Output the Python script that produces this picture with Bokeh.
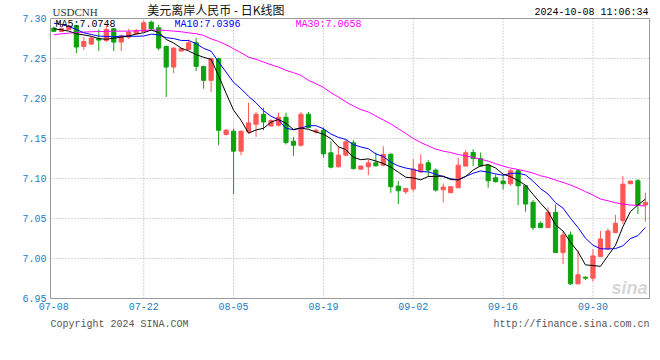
from bokeh.plotting import figure
from bokeh.layouts import column
from bokeh.models import (Range1d, FixedTicker, Label, ColumnDataSource, PrintfTickFormatter,
                          LinearAxis, Span)
from bokeh.embed import file_html
from bokeh.resources import INLINE
import pandas as pd

# ---------------- data ----------------
tick_index = [0, 12, 24, 36, 48, 60, 72]
tick_labels = ["07-08", "07-22", "08-05", "08-19", "09-02", "09-16", "09-30"]

opens = [7.2880, 7.2838, 7.2863, 7.2913, 7.2651, 7.2680, 7.2746, 7.2726, 7.2871, 7.2705,
         7.2767, 7.2809, 7.2838, 7.2954, 7.2884, 7.2651, 7.2393, 7.2593, 7.2613, 7.2697,
         7.2401, 7.2227, 7.2497, 7.1549, 7.1591, 7.1342, 7.1583, 7.1678, 7.1803, 7.1657,
         7.1666, 7.1766, 7.1466, 7.1416, 7.1803, 7.1583, 7.1603, 7.1321, 7.1146, 7.1292,
         7.1446, 7.1117, 7.1146, 7.1196, 7.1167, 7.1304, 7.0905, 7.0835, 7.0868, 7.1084,
         7.1196, 7.1105, 7.0859, 7.0822, 7.0884, 7.1155, 7.1325, 7.1250, 7.1167, 7.1009,
         7.0968, 7.0934, 7.1096, 7.0909, 7.0702, 7.0440, 7.0386, 7.0577, 7.0074, 7.0294,
         6.9683, 6.9767, 6.9754, 7.0024, 7.0120, 7.0323, 7.0473, 7.0934, 7.0972, 7.0668]
highs = [7.2900, 7.2890, 7.2920, 7.2920, 7.2767, 7.2770, 7.2863, 7.2913, 7.2880, 7.2800,
         7.2871, 7.2870, 7.2975, 7.2975, 7.2921, 7.2660, 7.2640, 7.2630, 7.2738, 7.2759,
         7.2410, 7.2510, 7.2510, 7.1620, 7.1624, 7.1600, 7.1948, 7.1832, 7.1886, 7.1740,
         7.1824, 7.1824, 7.1520, 7.1832, 7.1832, 7.1624, 7.1637, 7.1466, 7.1396, 7.1491,
         7.1479, 7.1160, 7.1238, 7.1325, 7.1404, 7.1310, 7.0968, 7.0880, 7.1242, 7.1304,
         7.1229, 7.1126, 7.0938, 7.0900, 7.1259, 7.1354, 7.1367, 7.1325, 7.1180, 7.1051,
         7.1051, 7.1117, 7.1110, 7.0920, 7.0731, 7.0461, 7.0639, 7.0677, 7.0336, 7.0336,
         7.0103, 6.9775, 7.0116, 7.0344, 7.0377, 7.0544, 7.1030, 7.0970, 7.0993, 7.0822]
lows = [7.2830, 7.2830, 7.2855, 7.2568, 7.2609, 7.2670, 7.2593, 7.2705, 7.2593, 7.2593,
        7.2746, 7.2800, 7.2830, 7.2863, 7.2601, 7.2019, 7.2318, 7.2590, 7.2610, 7.2343,
        7.2123, 7.2081, 7.1416, 7.1540, 7.0806, 7.1292, 7.1562, 7.1520, 7.1603, 7.1650,
        7.1650, 7.1425, 7.1283, 7.1400, 7.1625, 7.1562, 7.1259, 7.1126, 7.1140, 7.1280,
        7.1110, 7.1110, 7.1042, 7.1150, 7.1160, 7.0822, 7.0681, 7.0806, 7.0835, 7.1070,
        7.1022, 7.0835, 7.0702, 7.0820, 7.0880, 7.1150, 7.1155, 7.1150, 7.0884, 7.0950,
        7.0864, 7.0909, 7.0668, 7.0585, 7.0357, 7.0380, 7.0380, 7.0070, 6.9929, 6.9671,
        6.9680, 6.9733, 6.9712, 7.0020, 7.0116, 7.0320, 7.0432, 7.0930, 7.0556, 7.0461]
closes = [7.2840, 7.2871, 7.2904, 7.2643, 7.2713, 7.2755, 7.2730, 7.2863, 7.2705, 7.2780,
          7.2830, 7.2850, 7.2946, 7.2871, 7.2630, 7.2393, 7.2630, 7.2622, 7.2697, 7.2401,
          7.2227, 7.2497, 7.1603, 7.1603, 7.1342, 7.1591, 7.1695, 7.1803, 7.1707, 7.1724,
          7.1766, 7.1450, 7.1416, 7.1803, 7.1637, 7.1603, 7.1308, 7.1142, 7.1292, 7.1458,
          7.1126, 7.1155, 7.1196, 7.1159, 7.1300, 7.0897, 7.0847, 7.0876, 7.1117, 7.1180,
          7.1105, 7.0855, 7.0893, 7.0897, 7.1167, 7.1321, 7.1250, 7.1155, 7.0972, 7.0959,
          7.0934, 7.1096, 7.0909, 7.0681, 7.0386, 7.0386, 7.0577, 7.0074, 7.0294, 6.9683,
          6.9796, 6.9754, 7.0032, 7.0244, 7.0344, 7.0440, 7.0930, 7.0968, 7.0668, 7.0702]

# moving-average values at the left edge (they depend on days before the window)
ma5_head = [7.2871, 7.2859, 7.2842, 7.2809]
ma10_head = [7.2942, 7.2925, 7.2900, 7.2863, 7.2821, 7.2800, 7.2780, 7.2776, 7.2771]
ma30 = [7.2796, 7.2809, 7.2817, 7.2825, 7.2830, 7.2834, 7.2838, 7.2838, 7.2842, 7.2842,
        7.2842, 7.2846, 7.2850, 7.2855, 7.2855, 7.2850, 7.2842, 7.2834, 7.2821, 7.2809,
        7.2788, 7.2746, 7.2713, 7.2672, 7.2622, 7.2572, 7.2518, 7.2489, 7.2456, 7.2422,
        7.2393, 7.2352, 7.2323, 7.2289, 7.2227, 7.2185, 7.2140, 7.2073, 7.2019, 7.1957,
        7.1907, 7.1861, 7.1832, 7.1782, 7.1732, 7.1682, 7.1624, 7.1562, 7.1500, 7.1450,
        7.1408, 7.1367, 7.1342, 7.1325, 7.1300, 7.1283, 7.1263, 7.1242, 7.1217, 7.1184,
        7.1155, 7.1130, 7.1113, 7.1092, 7.1067, 7.1034, 7.1013, 7.0980, 7.0951, 7.0918,
        7.0880, 7.0835, 7.0793, 7.0743, 7.0722, 7.0697, 7.0681, 7.0668, 7.0664, 7.0656]

y_ticks = [6.95, 7.00, 7.05, 7.10, 7.15, 7.20, 7.25, 7.30]

# ---------------- derived ----------------
n = len(closes)
idx = list(range(n))
cs = pd.Series(closes)
ma5 = ma5_head + list(cs.rolling(5).mean().iloc[4:])
ma10 = ma10_head + list(cs.rolling(10).mean().iloc[9:])

RED = "#ff5656"
GREEN = "#0ea30e"
colors = [RED if c >= o else GREEN for o, c in zip(opens, closes)]
src = ColumnDataSource(dict(
    x=idx, high=highs, low=lows,
    top=[max(o, c) for o, c in zip(opens, closes)],
    bottom=[min(o, c) for o, c in zip(opens, closes)],
    color=colors))

AXIS_BLUE = "#1a7cc8"
BORDER = "#9a9a9a"
GRID = "#aaaaaa"
MONO = "Liberation Mono"
W = 660
LEFT = 50      # left border of every frame (frames are aligned in the column)
RIGHT = 11
HEADER_PX = 18  # space above the price box, inside the frame, for the header texts
PX_PER_UNIT = 800.0
y_lo, y_hi = y_ticks[0], y_ticks[-1]


def lab(fig, x, y, text, font=MONO, size="10px", color="black", align="left",
        baseline="middle", style="normal"):
    # screen units: x from the frame's left edge, y up from the frame's bottom edge
    fig.add_layout(Label(x=x, y=y, x_units="screen", y_units="screen", text=text,
                         text_font=font, text_font_size=size, text_color=color,
                         text_align=align, text_baseline=baseline, text_font_style=style))


# ---------------- main chart (page y 0..315, price box 18..298) ----------------
p = figure(width=W, height=315,
           x_range=Range1d(-0.45, 79.55),
           y_range=Range1d(y_lo, y_hi + HEADER_PX / PX_PER_UNIT),
           output_backend="svg", toolbar_location=None,
           min_border_left=LEFT, min_border_right=RIGHT, min_border_top=0, min_border_bottom=17)
p.background_fill_color = "white"
p.border_fill_color = "white"
p.outline_line_color = None

# horizontal grid
p.ygrid.ticker = FixedTicker(ticks=y_ticks[1:-1])
p.ygrid.grid_line_color = GRID
p.ygrid.grid_line_dash = "1 2"
p.xgrid.visible = False
# vertical grid (limited to the price box)
p.segment(x0=tick_index[1:], y0=[y_lo] * (len(tick_index) - 1),
          x1=tick_index[1:], y1=[y_hi] * (len(tick_index) - 1),
          line_color=GRID, line_dash="1 2", line_width=1)

# axes; their lines form the box
p.yaxis.ticker = FixedTicker(ticks=y_ticks)
p.yaxis.formatter = PrintfTickFormatter(format="%.2f")
p.yaxis.bounds = (y_lo, y_hi)
p.xaxis.ticker = FixedTicker(ticks=tick_index)
p.xaxis.major_label_overrides = {i: s for i, s in zip(tick_index, tick_labels)}
right_axis = LinearAxis(bounds=(y_lo, y_hi), ticker=FixedTicker(ticks=[]),
                        major_label_text_font_size="0px")
p.add_layout(right_axis, "right")
for ax in (p.xaxis[0], p.yaxis[0], right_axis):
    ax.axis_line_color = BORDER
    ax.axis_line_width = 1
    ax.major_tick_in = 0
    ax.major_tick_out = 0
    ax.minor_tick_in = 0
    ax.minor_tick_out = 0
    ax.major_label_text_font = MONO
    ax.major_label_text_font_size = "10px"
    ax.major_label_text_color = AXIS_BLUE
right_axis.major_label_text_font_size = "0px"
p.yaxis[0].major_label_standoff = 4
p.xaxis[0].major_label_standoff = 4
p.add_layout(Span(location=y_hi, dimension="width", line_color=BORDER, line_width=1))

# candles
p.segment(x0="x", y0="high", x1="x", y1="low", source=src, line_color="color", line_width=1)
p.vbar(x="x", width=0.56, top="top", bottom="bottom", source=src,
       fill_color="color", line_color="color", line_width=1)

# moving averages
p.line(idx, ma30, line_color="#ff00ff", line_width=1)
p.line(idx, ma10, line_color="#0000ff", line_width=1)
p.line(idx, ma5, line_color="#000000", line_width=1)

FB = 298  # page y of the frame bottom
lab(p, 5, FB - 24, "MA5:7.0748", color="#000000")
lab(p, 124, FB - 24, "MA10:7.0396", color="#0000ff")
lab(p, 245, FB - 24, "MA30:7.0658", color="#ff00ff")
lab(p, 597, 1, "sina", font="Liberation Sans", size="18px", color="#d6d6d6",
    align="right", baseline="bottom", style="bold italic")

# header
lab(p, 2, FB - 11.5, "USDCNH", font="Liberation Serif", size="11px", color="#333333")
lab(p, 168, FB - 9, "美元离岸人民币  -  日K线图", font="Noto Sans CJK SC", size="12px",
    color="#111111", align="center")
lab(p, 598, FB - 11.5, "2024-10-08 11:06:34", color="#000000", align="right")

# ---------------- footer strip (page y 315..360) ----------------
foot = figure(width=W, height=45, x_range=Range1d(0, 1), y_range=Range1d(0, 1),
              output_backend="svg", toolbar_location=None,
              x_axis_type=None, y_axis_type=None,
              min_border_left=LEFT, min_border_right=RIGHT, min_border_top=0, min_border_bottom=0)
foot.outline_line_color = None
foot.grid.visible = False
foot.background_fill_color = "white"
foot.border_fill_color = "white"
lab(foot, 0, 36, "Copyright 2024 SINA.COM", color="#555555")
lab(foot, 599, 36, "http://finance.sina.com.cn", color="#555555", align="right")

layout = column(p, foot, spacing=0)
open("out.html", "w").write(file_html(layout, INLINE))
